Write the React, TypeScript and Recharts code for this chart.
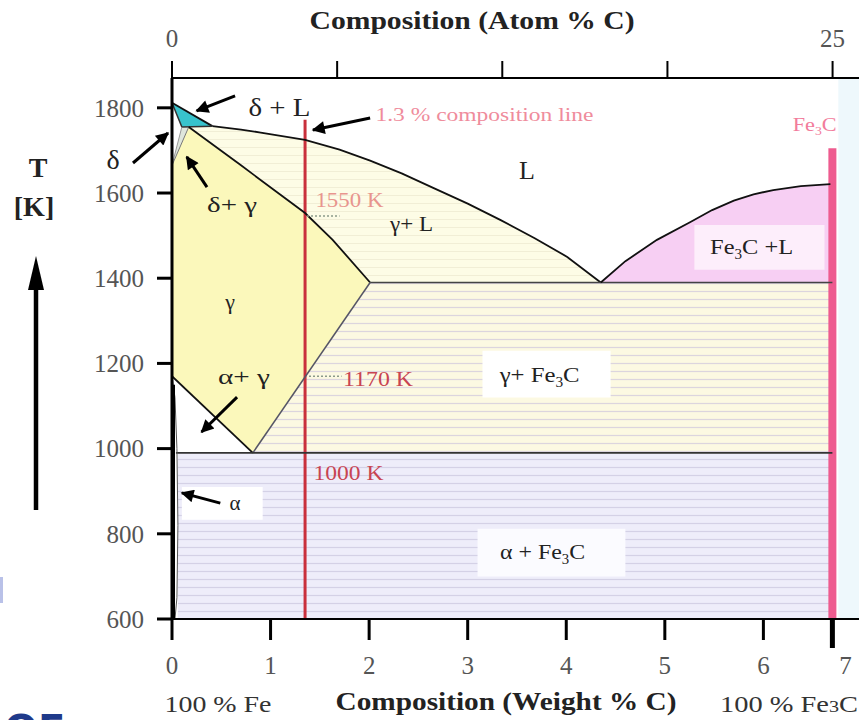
import React from 'react';
import { ComposedChart, Area, Line, XAxis, YAxis, Scatter, ReferenceLine } from 'recharts';

const FONT = "'Liberation Serif','Times New Roman',serif";

// axis ticks
const weightTicks = [0, 1, 2, 3, 4, 5, 6, 6.7];
const tempTicks = [600, 800, 1000, 1200, 1400, 1600, 1800];
const atomTicks = [0, 6.25, 12.5, 18.75, 25];

// phase regions: x = weight % C, r = [low T, high T] in K
const deltaLRegion = [
  { x: 0, r: [1812, 1812] },
  { x: 0.1, r: [1755, 1799] },
  { x: 0.41, r: [1757, 1757] },
];
const deltaGammaRegion = [
  { x: 0, r: [1665, 1665] },
  { x: 0.1, r: [1718, 1755] },
  { x: 0.17, r: [1755, 1755] },
];
const gammaRegion = [
  { x: 0, r: [1170, 1665] },
  { x: 0.17, r: [1133, 1755] },
  { x: 0.7, r: [1016, 1665] },
  { x: 0.82, r: [990, 1644] },
  { x: 1.35, r: [1168, 1553] },
  { x: 1.63, r: [1262, 1490] },
  { x: 2.01, r: [1390, 1390] },
];
const gammaLRegion = [
  { x: 0.17, r: [1755, 1755] },
  { x: 0.41, r: [1714, 1757] },
  { x: 0.7, r: [1665, 1749] },
  { x: 0.9, r: [1631, 1742] },
  { x: 1.35, r: [1553, 1725] },
  { x: 1.63, r: [1490, 1707] },
  { x: 1.7, r: [1472, 1702] },
  { x: 2.01, r: [1390, 1676] },
  { x: 2.33, r: [1390, 1646] },
  { x: 2.65, r: [1390, 1612] },
  { x: 3.0, r: [1390, 1575] },
  { x: 3.33, r: [1390, 1537] },
  { x: 3.68, r: [1390, 1494] },
  { x: 4.01, r: [1390, 1450] },
  { x: 4.35, r: [1390, 1390] },
];
const gammaFe3CRegion = [
  { x: 0.82, r: [990, 990] },
  { x: 1.35, r: [990, 1168] },
  { x: 2.01, r: [990, 1390] },
  { x: 6.7, r: [990, 1390] },
];
const alphaFe3CRegion = [
  { x: 0.06, r: [600, 990] },
  { x: 6.7, r: [600, 990] },
];
const fe3cLRegion = [
  { x: 4.35, r: [1390, 1390] },
  { x: 4.6, r: [1390, 1440] },
  { x: 4.92, r: [1390, 1490] },
  { x: 5.26, r: [1390, 1532] },
  { x: 5.48, r: [1390, 1560] },
  { x: 5.7, r: [1390, 1582] },
  { x: 5.9, r: [1390, 1597] },
  { x: 6.1, r: [1390, 1607] },
  { x: 6.38, r: [1390, 1616] },
  { x: 6.7, r: [1390, 1621] },
];
// label backdrops
const gammaFe3CBox = [{ x: 3.15, r: [1120, 1230] }, { x: 4.45, r: [1120, 1230] }];
const alphaFe3CBox = [{ x: 3.1, r: [700, 812] }, { x: 4.6, r: [700, 812] }];
const fe3cLBox = [{ x: 5.3, r: [1420, 1525] }, { x: 6.62, r: [1420, 1525] }];
const alphaBox = [{ x: 0.1, r: [833, 910] }, { x: 0.92, r: [833, 910] }];
const rightBand = [{ x: 6.76, r: [600, 1870] }, { x: 6.97, r: [600, 1870] }];

// boundary lines
const deltaLiquidus = [{ x: 0, T: 1812 }, { x: 0.41, T: 1757 }];
const liquidus = [
  { x: 0.41, T: 1757 }, { x: 0.7, T: 1749 }, { x: 0.9, T: 1742 }, { x: 1.35, T: 1725 },
  { x: 1.7, T: 1702 }, { x: 2.01, T: 1676 }, { x: 2.33, T: 1646 }, { x: 2.65, T: 1612 },
  { x: 3.0, T: 1575 }, { x: 3.33, T: 1537 }, { x: 3.68, T: 1494 }, { x: 4.01, T: 1450 }, { x: 4.35, T: 1390 },
];
const peritectic = [{ x: 0, T: 1812 }, { x: 0.1, T: 1755 }, { x: 0.41, T: 1757 }];
const deltaEdge = [{ x: 0, T: 1665 }, { x: 0.1, T: 1755 }];
const deltaGammaEdge = [{ x: 0, T: 1665 }, { x: 0.17, T: 1755 }];
const solidus = [
  { x: 0.17, T: 1755 }, { x: 0.7, T: 1665 }, { x: 1.35, T: 1553 }, { x: 1.63, T: 1490 }, { x: 2.01, T: 1390 },
];
const a3Line = [{ x: 0, T: 1170 }, { x: 0.82, T: 990 }];
const acmLine = [{ x: 0.82, T: 990 }, { x: 2.01, T: 1390 }];
const eutecticLine = [{ x: 2.01, T: 1390 }, { x: 6.7, T: 1390 }];
const eutectoidLine = [{ x: 0.04, T: 990 }, { x: 6.7, T: 990 }];
const fe3cLiquidus = [
  { x: 4.35, T: 1390 }, { x: 4.6, T: 1440 }, { x: 4.92, T: 1490 }, { x: 5.26, T: 1532 },
  { x: 5.48, T: 1560 }, { x: 5.7, T: 1582 }, { x: 5.9, T: 1597 }, { x: 6.1, T: 1607 },
  { x: 6.38, T: 1616 }, { x: 6.68, T: 1621 },
];
const alphaEdge = [
  { x: 0, T: 1170 }, { x: 0.03, T: 1120 }, { x: 0.05, T: 1000 }, { x: 0.06, T: 820 },
  { x: 0.05, T: 650 }, { x: 0.03, T: 600 },
];
const alphaThick = [{ x: 0.015, T: 600 }, { x: 0.015, T: 1150 }];
const compositionLine = [{ x: 1.35, T: 600 }, { x: 1.35, T: 1772 }];
const fe3cLine = [{ x: 6.7, T: 600 }, { x: 6.7, T: 1705 }];
const atomAxisData = [{ a: 0, T: 600 }, { a: 25, T: 600 }];

// annotations
const labels = [
  { x: 1.09, T: 1800, text: 'δ + L' },
  { x: 0.61, T: 1572, text: 'δ+ γ' },
  { x: 1.8, T: 1584, text: '1550 K' },
  { x: 2.43, T: 1527, text: 'γ+ L' },
  { x: 3.6, T: 1654, text: 'L' },
  { x: 3.17, T: 1783, text: '1.3 % composition line' },
  { x: 6.52, T: 1760, text: 'Fe₃C' },
  { x: 0.59, T: 1344, text: 'γ' },
  { x: 0.73, T: 1168, text: 'α+ γ' },
  { x: 2.09, T: 1163, text: '1170 K' },
  { x: 1.79, T: 943, text: '1000 K' },
  { x: 3.73, T: 1173, text: 'γ+ Fe₃C' },
  { x: 3.76, T: 757, text: 'α + Fe₃C' },
  { x: 5.88, T: 1473, text: 'Fe₃C +L' },
  { x: 0.64, T: 872, text: 'α' },
];
const labelStyle: Record<string, { size: number; w?: number; color?: string }> = {
  'δ + L': { size: 25, w: 62 },
  'δ+ γ': { size: 22, w: 50 },
  '1550 K': { size: 21, w: 68, color: '#e8958e' },
  'γ+ L': { size: 22, w: 43 },
  'L': { size: 26 },
  '1.3 % composition line': { size: 18, w: 218, color: '#ef8c9c' },
  'Fe₃C': { size: 19, w: 44, color: '#f27c9c' },
  'γ': { size: 22 },
  'α+ γ': { size: 22, w: 52 },
  '1170 K': { size: 22, w: 70, color: '#c84452' },
  '1000 K': { size: 22, w: 70, color: '#c84452' },
  'γ+ Fe₃C': { size: 22, w: 80 },
  'α + Fe₃C': { size: 22, w: 85 },
  'Fe₃C +L': { size: 22, w: 83 },
  'α': { size: 21 },
};

const arrows = [
  { from: { x: 0.64, y: 1828 }, to: { x: 0.25, y: 1793 } },
  { from: { x: 0.355, y: 1614 }, to: { x: 0.15, y: 1685 } },
  { from: { x: 2.01, y: 1776 }, to: { x: 1.43, y: 1748 } },
  { from: { x: 0.66, y: 1121 }, to: { x: 0.3, y: 1039 } },
  { from: { x: 0.49, y: 872 }, to: { x: 0.1, y: 896 } },
];
const leaders = [
  { from: { x: 1.37, y: 1546 }, to: { x: 1.7, y: 1546 } },
  { from: { x: 1.39, y: 1170 }, to: { x: 1.72, y: 1170 } },
];

function rich(text: string, size: number) {
  const parts = text.split('₃');
  const out: any[] = [<tspan key="p0">{parts[0]}</tspan>];
  for (let i = 1; i < parts.length; i++) {
    out.push(<tspan key={'s' + i} fontSize={size * 0.62} dy={size * 0.22}>3</tspan>);
    out.push(<tspan key={'p' + i} dy={-size * 0.22}>{parts[i]}</tspan>);
  }
  return out;
}

const LabelShape = (p: any) => {
  const { cx, cy, payload } = p;
  const st = labelStyle[payload.text] || { size: 22 };
  return (
    <text
      x={cx}
      y={cy + st.size * 0.33}
      textAnchor="middle"
      fontFamily={FONT}
      fontSize={st.size}
      fill={st.color || '#222'}
      textLength={st.w}
      lengthAdjust={st.w ? 'spacingAndGlyphs' : undefined}
    >
      {rich(payload.text, st.size)}
    </text>
  );
};

const BottomTick = (props: any) => {
  const { x, y, payload } = props;
  const v = payload.value;
  const fe3c = v === 6.7;
  return (
    <g>
      <line x1={x} x2={x} y1={y} y2={y + (fe3c ? 29 : 21)} stroke="#000" strokeWidth={fe3c ? 5 : 3} />
      <text x={x + (fe3c ? 13 : 0)} y={y + 55} textAnchor="middle" fill="#555" fontSize={25} fontFamily={FONT}>
        {fe3c ? '7' : String(v)}
      </text>
    </g>
  );
};

export default function App() {
  const areaProps = { type: 'linear' as const, dataKey: 'r', stroke: 'none', fillOpacity: 1, isAnimationActive: false, dot: false, activeDot: false };
  const lineProps = { type: 'linear' as const, dataKey: 'T', dot: false, activeDot: false, isAnimationActive: false };
  return (
    <div style={{ position: 'absolute', left: 0, top: 0, width: 859, height: 720, background: '#fff' }}>
      <ComposedChart width={859} height={720} margin={{ top: 0, right: 0, bottom: 0, left: 0 }}>
        <defs>
          <pattern id="stripeGF" patternUnits="userSpaceOnUse" width="8" height="8">
            <rect width="8" height="8" fill="#fcf9e2" />
            <line x1="0" x2="8" y1="3.5" y2="3.5" stroke="#dcd5de" strokeWidth="1.2" />
          </pattern>
          <pattern id="stripeAF" patternUnits="userSpaceOnUse" width="8" height="8">
            <rect width="8" height="8" fill="#eeedfa" />
            <line x1="0" x2="8" y1="3.5" y2="3.5" stroke="#d4d1e6" strokeWidth="1.2" />
          </pattern>
          <pattern id="stripeGL" patternUnits="userSpaceOnUse" width="8" height="8">
            <rect width="8" height="8" fill="#fdfce6" />
            <line x1="0" x2="8" y1="3.5" y2="3.5" stroke="#f1eed6" strokeWidth="1" />
          </pattern>
          <marker id="ah" viewBox="0 0 10 10" refX="9" refY="5" markerWidth="15" markerHeight="13" markerUnits="userSpaceOnUse" orient="auto">
            <path d="M0,0 L10,5 L0,10 z" fill="#000" />
          </marker>
        </defs>
        <XAxis
          dataKey="x"
          type="number"
          domain={[0, 6.97]}
          allowDataOverflow
          ticks={weightTicks}
          interval={0}
          height={101}
          axisLine={{ stroke: '#000', strokeWidth: 2 }}
          tickLine={false}
          tickSize={0}
          tickMargin={0}
          tick={<BottomTick />}
        />
        <XAxis
          xAxisId="top"
          orientation="top"
          dataKey="a"
          type="number"
          domain={[0, 26.0]}
          allowDataOverflow
          ticks={atomTicks}
          interval={0}
          height={78}
          tickSize={17}
          tickMargin={14}
          axisLine={{ stroke: '#000', strokeWidth: 2 }}
          tickLine={{ stroke: '#000', strokeWidth: 2 }}
          tick={{ fill: '#555', fontSize: 25, fontFamily: FONT }}
          tickFormatter={(v: number) => (v === 0 ? '0' : v === 25 ? '25' : '')}
        />
        <YAxis
          type="number"
          dataKey="T"
          domain={[600, 1870]}
          allowDataOverflow
          ticks={tempTicks}
          interval={0}
          width={172}
          tickSize={15}
          tickMargin={13}
          axisLine={{ stroke: '#000', strokeWidth: 3 }}
          tickLine={{ stroke: '#000', strokeWidth: 3 }}
          tick={{ fill: '#555', fontSize: 25, fontFamily: FONT }}
        />

        <Area {...areaProps} data={rightBand} fill="#eef8fc" />
        <Area {...areaProps} data={alphaFe3CRegion} fill="url(#stripeAF)" />
        <Area {...areaProps} data={gammaFe3CRegion} fill="url(#stripeGF)" />
        <Area {...areaProps} data={gammaLRegion} fill="url(#stripeGL)" />
        <Area {...areaProps} data={fe3cLRegion} fill="#f7cff3" />
        <Area {...areaProps} data={gammaRegion} fill="#fbf8bb" />
        <Area {...areaProps} data={deltaGammaRegion} fill="#dfe6dc" />
        <Area {...areaProps} data={deltaLRegion} fill="#38c3cc" />
        <Area {...areaProps} data={gammaFe3CBox} fill="#ffffff" />
        <Area {...areaProps} data={alphaFe3CBox} fill="#fbfbff" />
        <Area {...areaProps} data={fe3cLBox} fill="#fdeefb" />
        <Area {...areaProps} data={alphaBox} fill="#ffffff" />

        <Line {...lineProps} data={compositionLine} stroke="#c9303c" strokeWidth={3} />
        <Line {...lineProps} data={fe3cLine} stroke="#ee5b8f" strokeWidth={8} />
        <Line {...lineProps} data={deltaLiquidus} stroke="#111" strokeWidth={1.8} />
        <Line {...lineProps} data={liquidus} stroke="#111" strokeWidth={1.8} />
        <Line {...lineProps} data={peritectic} stroke="#333" strokeWidth={1.5} />
        <Line {...lineProps} data={deltaEdge} stroke="#999" strokeWidth={1} />
        <Line {...lineProps} data={deltaGammaEdge} stroke="#777" strokeWidth={1} />
        <Line {...lineProps} data={solidus} stroke="#111" strokeWidth={1.8} />
        <Line {...lineProps} data={a3Line} stroke="#111" strokeWidth={1.8} />
        <Line {...lineProps} data={acmLine} stroke="#556" strokeWidth={1.5} />
        <Line {...lineProps} data={eutecticLine} stroke="#444" strokeWidth={1.5} />
        <Line {...lineProps} data={eutectoidLine} stroke="#333" strokeWidth={1.8} />
        <Line {...lineProps} data={fe3cLiquidus} stroke="#111" strokeWidth={1.8} />
        <Line {...lineProps} data={alphaEdge} stroke="#555" strokeWidth={1} />
        <Line {...lineProps} data={alphaThick} stroke="#000" strokeWidth={3} />
        <Line {...lineProps} xAxisId="top" data={atomAxisData} stroke="none" />

        {arrows.map((a, i) => (
          <ReferenceLine key={'a' + i} segment={[a.from, a.to]} stroke="#000" strokeWidth={3} markerEnd="url(#ah)" ifOverflow="visible" />
        ))}
        {leaders.map((a, i) => (
          <ReferenceLine key={'l' + i} segment={[a.from, a.to]} stroke="#8a9a8a" strokeWidth={1.5} strokeDasharray="2 2" ifOverflow="visible" />
        ))}

        <Scatter data={labels} dataKey="T" isAnimationActive={false} shape={LabelShape} />
      </ComposedChart>

      <svg width={859} height={720} style={{ position: 'absolute', left: 0, top: 0, pointerEvents: 'none' }}>
        <defs>
          <marker id="ah2" viewBox="0 0 10 10" refX="9" refY="5" markerWidth="15" markerHeight="13" markerUnits="userSpaceOnUse" orient="auto">
            <path d="M0,0 L10,5 L0,10 z" fill="#000" />
          </marker>
        </defs>
        <text x={472} y={29} textAnchor="middle" fontFamily={FONT} fontWeight="bold" fontSize={26} fill="#222" textLength={325} lengthAdjust="spacingAndGlyphs">
          Composition  (Atom % C)
        </text>
        <text x={218} y={712} textAnchor="middle" fontFamily={FONT} fontSize={24} fill="#333" textLength={107} lengthAdjust="spacingAndGlyphs">
          100 % Fe
        </text>
        <text x={506} y={710} textAnchor="middle" fontFamily={FONT} fontWeight="bold" fontSize={25} fill="#222" textLength={341} lengthAdjust="spacingAndGlyphs">
          Composition (Weight % C)
        </text>
        <text x={789} y={712} textAnchor="middle" fontFamily={FONT} fontSize={24} fill="#333" textLength={138} lengthAdjust="spacingAndGlyphs">
          100 % Fe<tspan fontSize={17}>3</tspan>C
        </text>
        <text x={38} y={177} textAnchor="middle" fontFamily={FONT} fontWeight="bold" fontSize={28} fill="#222">T</text>
        <text x={34} y={216} textAnchor="middle" fontFamily={FONT} fontWeight="bold" fontSize={28} fill="#222">[K]</text>
        <line x1={36} x2={36} y1={285} y2={510} stroke="#000" strokeWidth={4.5} />
        <path d="M36,256 L28,290 L44,290 z" fill="#000" />
        <text x={113} y={169} textAnchor="middle" fontFamily={FONT} fontSize={28} fill="#222">δ</text>
        <line x1={133} y1={163} x2={168} y2={133} stroke="#000" strokeWidth={3} markerEnd="url(#ah2)" />
        <text x={4} y={744} fontFamily="'DejaVu Sans',sans-serif" fontWeight="bold" fontSize={40} fill="#1f3a8a">OE</text>
        <rect x={0} y={577} width={3} height={26} fill="#b9c1e8" />
      </svg>
    </div>
  );
}
